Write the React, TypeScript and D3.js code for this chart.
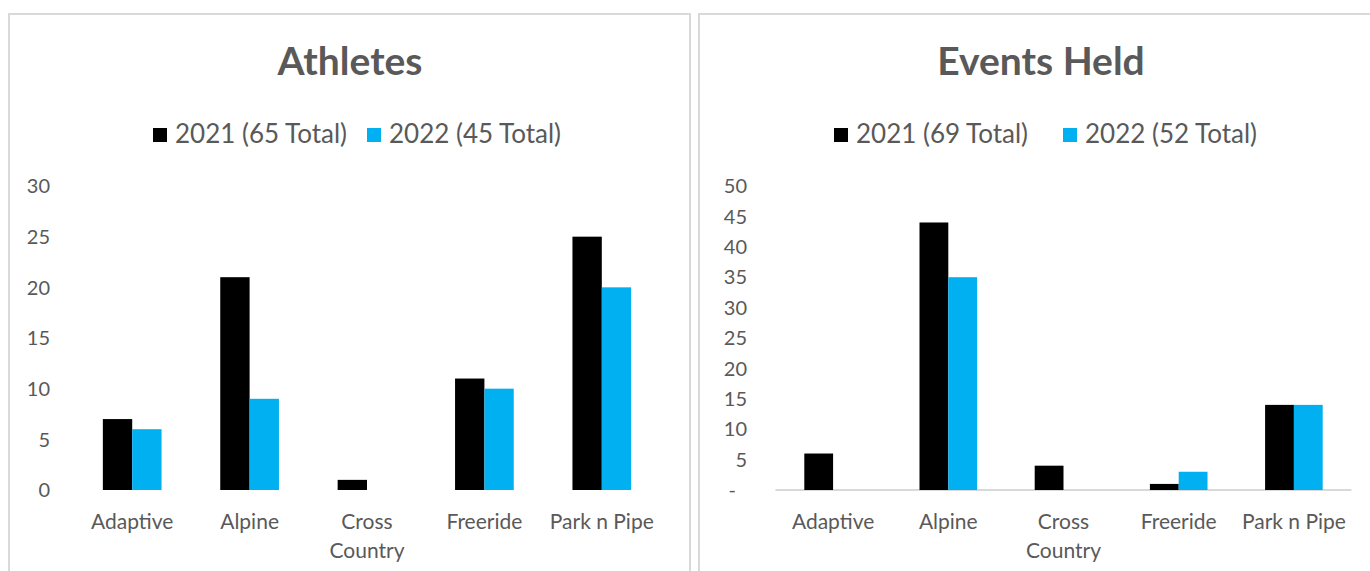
import React from 'react';
import * as d3 from 'd3';

// chart values
const categories = ['Adaptive', 'Alpine', 'Cross Country', 'Freeride', 'Park n Pipe'];
const seriesNames = ['2021', '2022'];
const athletes2021 = [7, 21, 1, 11, 25];
const athletes2022 = [6, 9, 0, 10, 20];
const events2021 = [6, 44, 4, 1, 14];
const events2022 = [0, 35, 0, 3, 14];
const athleteTicks = [0, 5, 10, 15, 20, 25, 30];
const eventTicks = [0, 5, 10, 15, 20, 25, 30, 35, 40, 45, 50];
const athleteLegend = ['2021 (65 Total)', '2022 (45 Total)'];
const eventLegend = ['2021 (69 Total)', '2022 (52 Total)'];

const colors = ['#000000', '#00b0f0'];
const textColor = '#595959';
const borderColor = '#d9d9d9';
const font = 'Lato, "Open Sans", sans-serif';

const svgWidth = 1370;
const svgHeight = 571;
const plotTop = 186;
const plotBottom = 490;

type PanelProps = {
  title: string;
  legend: string[];
  values: number[][];
  ticks: number[];
  panelX: number;
  panelW: number;
  titleX: number;
  legendX: number[]; // left edge of each legend swatch
  bandRange: [number, number];
  tickX: number;
  dashZero: boolean;
  axisLine: boolean;
};

const wrapLabel = (label: string) => (label.length > 11 ? label.split(' ') : [label]);

const Panel = (p: PanelProps) => {
  const yScale = d3.scaleLinear()
    .domain([0, d3.max(p.ticks) as number])
    .range([plotBottom, plotTop]);

  const xScale = d3.scaleBand<string>()
    .domain(categories)
    .range(p.bandRange);

  const bw = xScale.bandwidth();
  // gap width 100%: bars fill the middle half of each band
  const inner = d3.scaleBand<string>()
    .domain(seriesNames)
    .range([bw / 4, (bw * 3) / 4]);

  return (
    <g>
      <rect x={p.panelX} y={14} width={p.panelW} height={620}
        fill="#fff" stroke={borderColor} strokeWidth={2} />

      <text x={p.titleX} y={75} textAnchor="middle" fontFamily={font}
        fontWeight={700} fontSize={39} fill={textColor}>{p.title}</text>

      {p.legend.map((label, i) => (
        <g key={label}>
          <rect x={p.legendX[i]} y={128} width={14} height={14} fill={colors[i]} />
          <text x={p.legendX[i] + 22} y={143} fontFamily={font} fontSize={26}
            fill={textColor}>{label}</text>
        </g>
      ))}

      {p.ticks.map((t) => (
        <text key={t} x={t === 0 && p.dashZero ? p.tickX - 11 : p.tickX} y={yScale(t)} dy="0.36em"
          textAnchor="end" fontFamily={font} fontSize={20} fill={textColor}>
          {t === 0 && p.dashZero ? '-' : t}
        </text>
      ))}

      {p.axisLine && (
        <line x1={p.bandRange[0]} x2={p.bandRange[1]} y1={plotBottom} y2={plotBottom}
          stroke={borderColor} strokeWidth={2} />
      )}

      {categories.map((c, ci) => (
        <g key={c}>
          {seriesNames.map((s, si) => {
            const v = p.values[si][ci];
            if (!v) return null;
            return (
              <rect key={s}
                x={(xScale(c) as number) + (inner(s) as number)}
                y={yScale(v)}
                width={inner.bandwidth()}
                height={plotBottom - yScale(v)}
                fill={colors[si]} />
            );
          })}
          <text textAnchor="middle" fontFamily={font} fontSize={21} fill={textColor}>
            {wrapLabel(c).map((line, li) => (
              <tspan key={line} x={(xScale(c) as number) + bw / 2} y={529 + li * 29}>{line}</tspan>
            ))}
          </text>
        </g>
      ))}
    </g>
  );
};

export default function App() {
  return (
    <svg width={svgWidth} height={svgHeight}
      style={{ position: 'absolute', left: 0, top: 0, background: '#fff' }}>
      <Panel title="Athletes" legend={athleteLegend}
        values={[athletes2021, athletes2022]} ticks={athleteTicks}
        panelX={9} panelW={681} titleX={350} legendX={[153, 367]}
        bandRange={[73.5, 660.5]} tickX={50} dashZero={false} axisLine={false} />
      <Panel title="Events Held" legend={eventLegend}
        values={[events2021, events2022]} ticks={eventTicks}
        panelX={699} panelW={700} titleX={1041} legendX={[834, 1063]}
        bandRange={[775.5, 1351.5]} tickX={747} dashZero={true} axisLine={true} />
    </svg>
  );
}
